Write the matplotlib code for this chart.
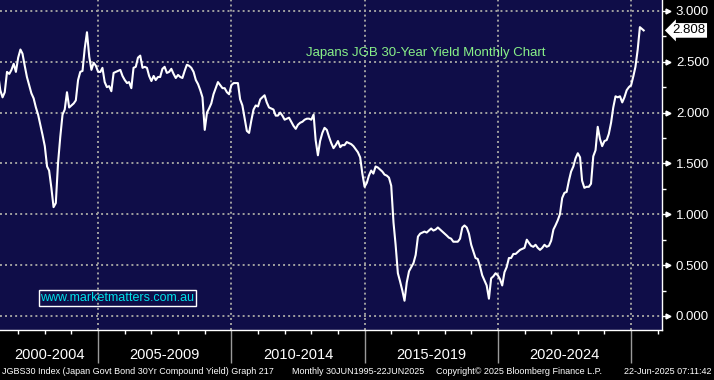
import matplotlib
matplotlib.use('Agg')
import matplotlib.pyplot as plt
import matplotlib.dates as mdates
from matplotlib.ticker import MultipleLocator, FormatStrFormatter
import numpy as np
import pandas as pd
from datetime import datetime

plt.rcParams['font.family'] = ['Liberation Sans', 'DejaVu Sans']

# JGB 30yr yield, monthly (Apr 2001 .. Jun 2025)
y2001 = [2.38, 2.22, 2.15, 2.20, 2.40, 2.38, 2.42, 2.48, 2.40]  # Apr-Dec
y2002 = [2.54, 2.62, 2.58, 2.46, 2.35, 2.27, 2.19, 2.14, 2.05, 1.98, 1.88, 1.78]
y2003 = [1.67, 1.47, 1.43, 1.26, 1.07, 1.11, 1.50, 1.76, 1.98, 2.03, 2.20, 2.05]
y2004 = [2.07, 2.09, 2.12, 2.32, 2.40, 2.41, 2.63, 2.79, 2.55, 2.42, 2.49, 2.46]
y2005 = [2.40, 2.40, 2.44, 2.30, 2.25, 2.26, 2.21, 2.39, 2.40, 2.41, 2.42, 2.36]
y2006 = [2.32, 2.29, 2.30, 2.24, 2.44, 2.45, 2.54, 2.56, 2.44, 2.45, 2.44, 2.36]
y2007 = [2.31, 2.36, 2.32, 2.35, 2.35, 2.43, 2.45, 2.39, 2.40, 2.43, 2.38, 2.34]
y2008 = [2.37, 2.35, 2.34, 2.41, 2.47, 2.46, 2.44, 2.40, 2.32, 2.28, 2.22, 2.15]
y2009 = [1.83, 2.00, 2.04, 2.09, 2.18, 2.24, 2.30, 2.27, 2.24, 2.24, 2.20, 2.18]
y2010 = [2.27, 2.29, 2.29, 2.29, 2.13, 2.07, 1.95, 1.82, 1.80, 1.92, 2.03, 2.07]
y2011 = [2.06, 2.13, 2.15, 2.17, 2.10, 2.05, 2.04, 2.03, 1.97, 1.97, 2.00, 1.97]
y2012 = [1.93, 1.94, 1.95, 1.91, 1.87, 1.84, 1.88, 1.90, 1.91, 1.93, 1.94, 1.94]
y2013 = [1.93, 1.98, 1.73, 1.58, 1.72, 1.80, 1.85, 1.83, 1.76, 1.70, 1.65, 1.68]
y2014 = [1.72, 1.66, 1.68, 1.68, 1.71, 1.70, 1.69, 1.67, 1.64, 1.61, 1.56, 1.40]
y2015 = [1.27, 1.31, 1.38, 1.43, 1.40, 1.47, 1.46, 1.44, 1.42, 1.39, 1.38, 1.36]
y2016 = [1.28, 0.92, 0.70, 0.42, 0.34, 0.25, 0.15, 0.33, 0.44, 0.48, 0.52, 0.60]
y2017 = [0.78, 0.81, 0.82, 0.83, 0.82, 0.84, 0.86, 0.84, 0.85, 0.87, 0.85, 0.83]
y2018 = [0.81, 0.79, 0.77, 0.76, 0.73, 0.73, 0.73, 0.76, 0.87, 0.89, 0.87, 0.81]
y2019 = [0.70, 0.63, 0.57, 0.56, 0.49, 0.40, 0.35, 0.30, 0.17, 0.37, 0.39, 0.42]
y2020 = [0.40, 0.36, 0.30, 0.43, 0.48, 0.57, 0.57, 0.61, 0.61, 0.63, 0.65, 0.66]
y2021 = [0.67, 0.75, 0.72, 0.69, 0.68, 0.70, 0.67, 0.65, 0.67, 0.70, 0.68, 0.69]
y2022 = [0.74, 0.85, 0.89, 0.94, 1.00, 1.16, 1.21, 1.22, 1.33, 1.42, 1.47, 1.55]
y2023 = [1.60, 1.56, 1.33, 1.26, 1.27, 1.27, 1.30, 1.57, 1.63, 1.86, 1.74, 1.67]
y2024 = [1.72, 1.73, 1.79, 1.90, 2.05, 2.16, 2.15, 2.16, 2.10, 2.15, 2.22, 2.25]
y2025 = [2.27, 2.36, 2.45, 2.62, 2.84, 2.808]  # Jan-Jun

last_value = 2.808
period_labels = ['2000-2004', '2005-2009', '2010-2014', '2015-2019', '2020-2024']
period_starts = [2000, 2005, 2010, 2015, 2020]

yields = (y2001 + y2002 + y2003 + y2004 + y2005 + y2006 + y2007 + y2008 + y2009
          + y2010 + y2011 + y2012 + y2013 + y2014 + y2015 + y2016 + y2017
          + y2018 + y2019 + y2020 + y2021 + y2022 + y2023 + y2024 + y2025)
dates = list(pd.date_range('2001-04-01', '2025-06-01', freq='MS'))
dates[-1] = pd.Timestamp('2025-06-22')

fig = plt.figure(figsize=(7.14, 3.80), dpi=100, facecolor='black')
ax = fig.add_axes([0, 50/380, 662/714, 330/380])
ax.set_facecolor('#0f0d48')

ax.plot(dates, yields, color='white', lw=1.5, zorder=3)

x0 = datetime(2001, 4, 27)
x1 = datetime(2026, 2, 28)
ax.set_xlim(x0, x1)
ax.set_ylim(-0.138, 3.107)

for s in ['left', 'top']:
    ax.spines[s].set_visible(False)
for s in ['bottom', 'right']:
    ax.spines[s].set_color('white')
    ax.spines[s].set_linewidth(1)

# right hand value axis
ax.yaxis.tick_right()
ax.yaxis.set_major_locator(MultipleLocator(0.5))
ax.yaxis.set_minor_locator(MultipleLocator(0.25))
ax.yaxis.set_major_formatter(FormatStrFormatter('%.3f'))
ax.tick_params(axis='y', which='major', length=5, width=1, color='white',
               labelcolor='white', labelsize=9.5, pad=5)
ax.tick_params(axis='y', which='minor', length=3, width=1, color='white')
yt = np.arange(0, 3.01, 0.5)
ax.plot([1.009] * len(yt), yt, ls='none', marker='>', ms=3.5, color='white',
        transform=ax.get_yaxis_transform(), clip_on=False)

# time axis
ax.xaxis.set_major_locator(mdates.YearLocator(5))
ax.xaxis.set_minor_locator(mdates.YearLocator(1))
ax.tick_params(axis='x', which='major', length=24, width=1, color='#9a9a9a',
               labelbottom=False)
ax.tick_params(axis='x', which='minor', length=3, width=1, color='white')

ax.set_axisbelow(True)
ax.grid(True, which='major', color='#a0a0a0', ls=(0, (1, 1.6)), lw=1.4)

lo = mdates.date2num(x0)
for lab, yr in zip(period_labels, period_starts):
    a = max(mdates.date2num(datetime(yr, 1, 1)), lo)
    b = mdates.date2num(datetime(yr + 5, 1, 1))
    ax.text((a + b) / 2, -0.076, lab, transform=ax.get_xaxis_transform(),
            ha='center', va='center', color='white', fontsize=10.5)

# last value tag
ax.text(1.016, last_value, '%.3f' % last_value, transform=ax.get_yaxis_transform(),
        ha='left', va='center', color='black', fontsize=9.5,
        bbox=dict(boxstyle='larrow,pad=0.1', fc='white', ec='none'))

ax.text(0.643, 0.839, 'Japans JGB 30-Year Yield Monthly Chart', transform=ax.transAxes,
        ha='center', va='center', color='#88f088', fontsize=9.5)

ax.text(0.061, 0.097, 'www.marketmatters.com.au', transform=ax.transAxes,
        ha='left', va='center', color='#00e0e8', fontsize=9,
        bbox=dict(boxstyle='square,pad=0.15', fc='none', ec='white', lw=1))

fy = 1 - 372/380
fig.text(2/714, fy, 'JGBS30 Index (Japan Govt Bond 30Yr Compound Yield) Graph 217',
         color='white', fontsize=6.5, va='center', ha='left')
fig.text(292/714, fy, 'Monthly 30JUN1995-22JUN2025', color='white', fontsize=6.5,
         va='center', ha='left')
fig.text(436/714, fy, 'Copyright\u00a9 2025 Bloomberg Finance L.P.', color='white',
         fontsize=6.5, va='center', ha='left')
fig.text(712/714, fy, '22-Jun-2025 07:11:42', color='white', fontsize=6.5,
         va='center', ha='right')

plt.savefig('out.png', dpi=100, facecolor='black')
plt.close()
